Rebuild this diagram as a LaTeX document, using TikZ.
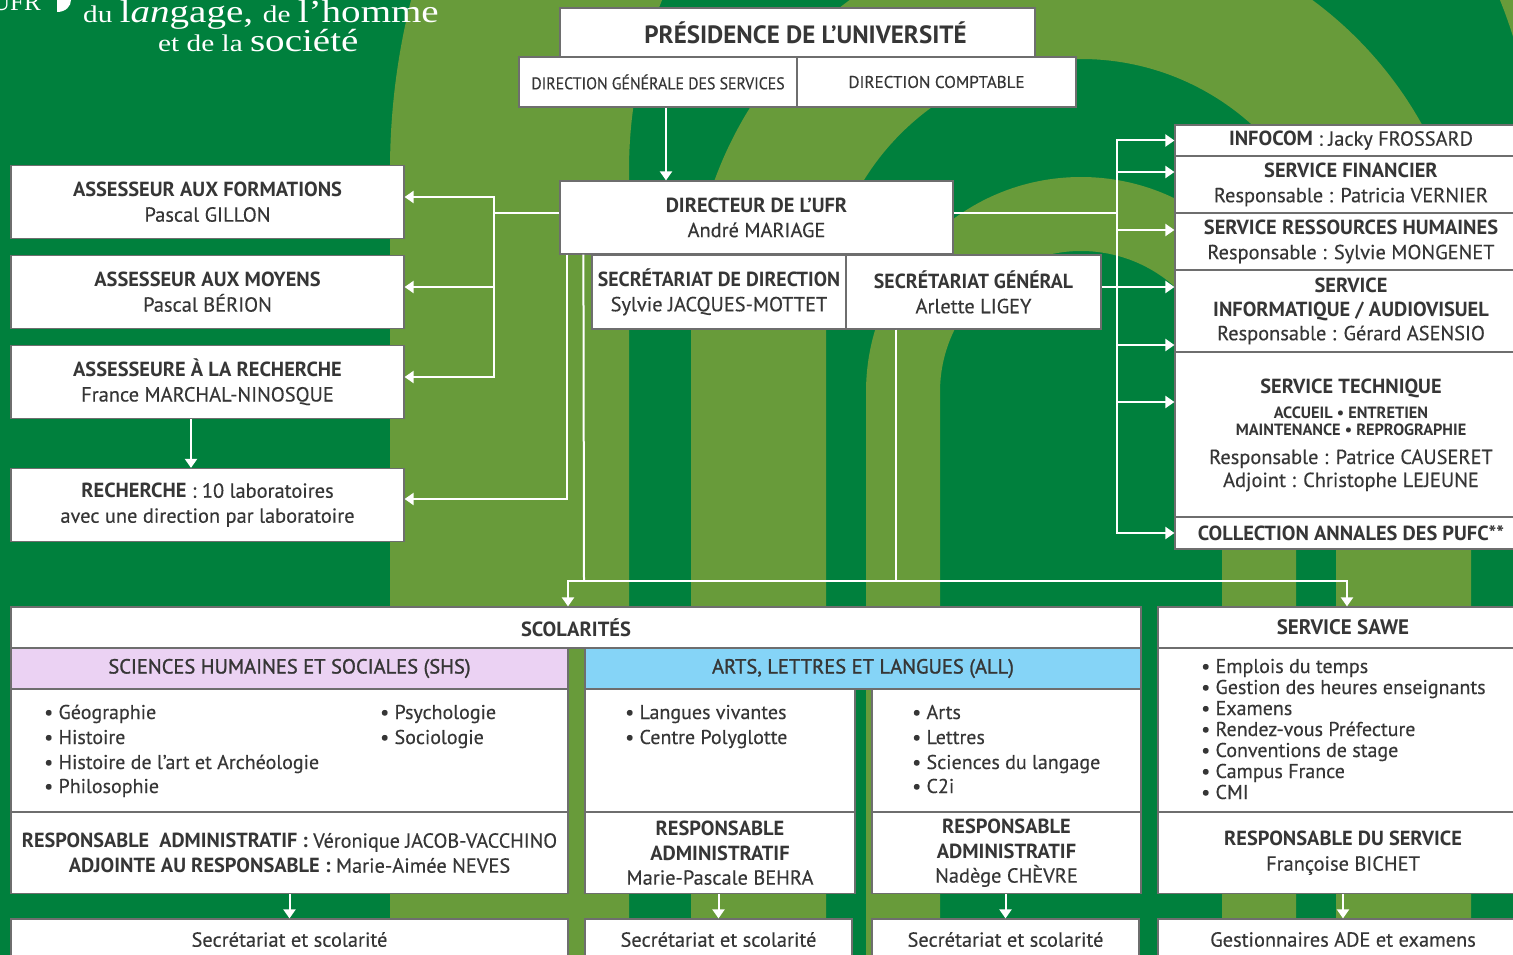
\documentclass[tikz,border=0pt]{standalone}
\usepackage{fontspec}
\usepackage{graphicx}
\usetikzlibrary{arrows.meta}
\setmainfont{PT Sans}[UprightFeatures={FakeBold=0.3}]
\newfontfamily\medfont{PT Sans}[FakeBold=1.2]
\newfontfamily\logofont{Liberation Serif}
\newcommand\fs[2]{\fontsize{#1}{#2}\selectfont}
\definecolor{dkg}{HTML}{00803D}
\definecolor{ltg}{HTML}{689B3A}
\definecolor{ink}{HTML}{363636}
\definecolor{bord}{HTML}{6E6E6E}
\definecolor{lilac}{HTML}{EBD2F3}
\definecolor{sky}{HTML}{85D4F7}
\begin{document}
\begin{tikzpicture}[x=1pt,y=1pt,
  box/.style={draw=bord, line width=1.2pt, fill=white, inner sep=0pt, align=center, text=ink, font=\fs{20.4}{25}},
  txt/.style={inner sep=0pt, text=ink, font=\fs{20}{20}},
  lst/.style={txt, anchor=base west},
  logo/.style={inner sep=0pt, text=white, font=\logofont},
  wire/.style={draw=white, line width=2pt},
  arr/.style={wire, -{Triangle[width=12pt,length=9pt]}}]
\useasboundingbox (0,0) rectangle (1513,-955);
\fill[dkg] (0,0) rectangle (1513,-955);
\begin{scope}
\clip (0,0) rectangle (1513,-955);
\fill[ltg] (390,-960) -- (390,-170) arc[start angle=180,end angle=0,radius=691] -- (1772,-960) -- (1533,-960) -- (1533,-170) arc[start angle=0,end angle=180,radius=452] -- (629,-960) -- cycle;
\fill[ltg] (691,-960) -- (691,-314) arc[start angle=180,end angle=0,radius=390] -- (1471,-960) -- (1336,-960) -- (1336,-314) arc[start angle=0,end angle=180,radius=255] -- (826,-960) -- cycle;
\fill[ltg] (866,-960) -- (866,-392) arc[start angle=180,end angle=0,radius=215] -- (1296,-960) -- (1222,-960) -- (1222,-392) arc[start angle=0,end angle=180,radius=141] -- (940,-960) -- cycle;
\end{scope}
% logo
\node[logo, anchor=base west] (ufr) at (-8,-11) {\fs{25}{25}UFR};
\fill[white] (57,0) -- (57,-12) .. controls (66,-12) and (71,-6) .. (71,0) -- cycle;
\node[logo, anchor=base west] (lg1) at (83,-23) {\scalebox{1.22}[1]{\fs{24}{24}du \fs{32}{32}l\textit{an}gage, \fs{24}{24}de \fs{32}{32}l’homme}};
\node[logo, anchor=base west] (lg2) at (158,-52) {\scalebox{1.22}[1]{\fs{24}{24}et de la \fs{32}{32}société}};
% top
\node[box, minimum width=475pt, minimum height=49pt, font=\fs{25}{28}\bfseries] (pres) at (797.5,-32.5) {\hspace*{16pt}PRÉSIDENCE DE L’UNIVERSITÉ};
\node[box, minimum width=278pt, minimum height=50pt, font=\fs{17}{20}] (dgs) at (658,-82) {\scalebox{0.93}[1]{DIRECTION GÉNÉRALE DES SERVICES}};
\node[box, minimum width=279pt, minimum height=50pt, font=\fs{17}{20}] (dcp) at (936.5,-82) {DIRECTION COMPTABLE};
\node[box, minimum width=393pt, minimum height=73pt] (dir) at (756.5,-217.5) {\textbf{DIRECTEUR DE L’UFR}\\André MARIAGE};
\node[box, minimum width=254pt, minimum height=74pt] (secdir) at (719,-292) {\scalebox{0.97}[1]{\textbf{SECRÉTARIAT DE DIRECTION}}\\Sylvie JACQUES-MOTTET};
\node[box, minimum width=255pt, minimum height=74pt] (secgen) at (973.5,-292) {\scalebox{0.97}[1]{\textbf{SECRÉTARIAT GÉNÉRAL}}\\Arlette LIGEY};
% left
\node[box, minimum width=393pt, minimum height=73pt] (af) at (207.5,-202) {\textbf{ASSESSEUR AUX FORMATIONS}\\Pascal GILLON};
\node[box, minimum width=393pt, minimum height=73pt] (am) at (207.5,-292) {\textbf{ASSESSEUR AUX MOYENS}\\Pascal BÉRION};
\node[box, minimum width=393pt, minimum height=73pt] (ar) at (207.5,-382) {\textbf{ASSESSEURE À LA RECHERCHE}\\France MARCHAL-NINOSQUE};
\node[box, minimum width=393pt, minimum height=73pt] (rech) at (207.5,-505) {\textbf{RECHERCHE} : 10 laboratoires\\avec une direction par laboratoire};
% right
\node[box, minimum width=352pt, minimum height=31pt] (infocom) at (1351,-140.5) {\textbf{INFOCOM} : Jacky FROSSARD};
\node[box, minimum width=352pt, minimum height=57pt] (fin) at (1351,-184.5) {\textbf{SERVICE FINANCIER}\\Responsable : Patricia VERNIER};
\node[box, minimum width=352pt, minimum height=57pt] (rh) at (1351,-241.5) {\textbf{SERVICE RESSOURCES HUMAINES}\\Responsable : Sylvie MONGENET};
\node[box, minimum width=352pt, minimum height=82pt, font=\fs{20.4}{24}] (info) at (1351,-311) {\textbf{SERVICE}\\\textbf{INFORMATIQUE / AUDIOVISUEL}\\Responsable : Gérard ASENSIO};
\node[box, minimum width=352pt, minimum height=165pt] (tech) at (1351,-434.5) {};
\node[txt, anchor=base, font=\fs{20.4}{20}\bfseries] (t1) at (1351,-393) {SERVICE TECHNIQUE};
\node[txt, anchor=base, font=\fs{16.3}{16}\bfseries] (t2) at (1351,-418) {ACCUEIL • ENTRETIEN};
\node[txt, anchor=base, font=\fs{16.3}{16}\bfseries] (t3) at (1351,-435) {MAINTENANCE • REPROGRAPHIE};
\node[txt, anchor=base, font=\fs{20.4}{20}] (t4) at (1351,-464) {Responsable : Patrice CAUSERET};
\node[txt, anchor=base, font=\fs{20.4}{20}] (t5) at (1351,-487) {Adjoint : Christophe LEJEUNE};
\node[box, minimum width=352pt, minimum height=32pt] (coll) at (1351,-533) {\textbf{COLLECTION ANNALES DES PUFC**}};
% scolarites
\node[box, minimum width=1130pt, minimum height=41pt, font=\fs{20.5}{20}\bfseries] (scol) at (576,-627.5) {SCOLARITÉS};
\node[box, fill=lilac, minimum width=557pt, minimum height=41pt, font=\fs{20.5}{20}\medfont] (shsh) at (289.5,-668.5) {SCIENCES HUMAINES ET SOCIALES (SHS)};
\node[box, fill=sky, minimum width=556pt, minimum height=41pt, font=\fs{20.5}{20}\medfont] (allh) at (863,-668.5) {ARTS, LETTRES ET LANGUES (ALL)};
\node[box, minimum width=557pt, minimum height=123pt] (shsl) at (289.5,-750.5) {};
\node[box, minimum width=557pt, minimum height=81pt] (shsr) at (289.5,-853) {\scalebox{0.99}[1]{\textbf{RESPONSABLE\ \ ADMINISTRATIF :} Véronique JACOB-VACCHINO}\\\textbf{ADJOINTE AU RESPONSABLE :} Marie-Aimée NEVES};
\node[box, minimum width=270pt, minimum height=123pt] (alll1) at (720,-750.5) {};
\node[box, minimum width=269pt, minimum height=123pt] (alll2) at (1006.5,-750.5) {};
\node[box, minimum width=270pt, minimum height=81pt, font=\fs{20.4}{24.5}] (allr1) at (720,-853) {\textbf{RESPONSABLE}\\\textbf{ADMINISTRATIF}\\Marie-Pascale BEHRA};
\node[box, minimum width=269pt, minimum height=81pt, font=\fs{20.4}{24.5}] (allr2) at (1006.5,-853) {\textbf{RESPONSABLE}\\\textbf{ADMINISTRATIF}\\Nadège CHÈVRE};
\node[box, minimum width=370pt, minimum height=41pt, font=\fs{21}{20}\bfseries] (sawh) at (1343,-627.5) {SERVICE SAWE};
\node[box, minimum width=370pt, minimum height=164pt] (sawl) at (1343,-730) {};
\node[box, minimum width=370pt, minimum height=81pt] (sawr) at (1343,-853) {\textbf{RESPONSABLE DU SERVICE}\\Françoise BICHET};
\node[box, minimum width=557pt, minimum height=41pt] (b1) at (289.5,-939.5) {Secrétariat et scolarité};
\node[box, minimum width=267pt, minimum height=41pt] (b2) at (718.5,-939.5) {Secrétariat et scolarité};
\node[box, minimum width=267pt, minimum height=41pt] (b3) at (1005.5,-939.5) {Secrétariat et scolarité};
\node[box, minimum width=370pt, minimum height=41pt] (b4) at (1343,-939.5) {Gestionnaires ADE et examens};
% lists
\node[lst] (g1) at (44,-719) {• Géographie};
\node[lst] (g2) at (44,-744) {• Histoire};
\node[lst] (g3) at (44,-769) {• Histoire de l’art et Archéologie};
\node[lst] (g4) at (44,-793) {• Philosophie};
\node[lst] (g5) at (380,-719) {• Psychologie};
\node[lst] (g6) at (380,-744) {• Sociologie};
\node[lst] (a1) at (625,-719) {• Langues vivantes};
\node[lst] (a2) at (625,-744) {• Centre Polyglotte};
\node[lst] (a3) at (912,-719) {• Arts};
\node[lst] (a4) at (912,-744) {• Lettres};
\node[lst] (a5) at (912,-769) {• Sciences du langage};
\node[lst] (a6) at (912,-793) {• C2i};
\node[lst] (s1) at (1201,-673) {• Emplois du temps};
\node[lst] (s2) at (1201,-694) {• Gestion des heures enseignants};
\node[lst] (s3) at (1201,-715) {• Examens};
\node[lst] (s4) at (1201,-736) {• Rendez-vous Préfecture};
\node[lst] (s5) at (1201,-757) {• Conventions de stage};
\node[lst] (s6) at (1201,-778) {• Campus France};
\node[lst] (s7) at (1201,-799) {• CMI};
% connectors
\coordinate (jL) at (494,-213);
\coordinate (jR) at (1117,-213);
\coordinate (jB) at (584,-581);
\coordinate (kA) at (666,0);
\draw[arr] (dgs.south -| kA) -- (dir.north -| kA);
\draw[wire] ([yshift=4.5pt]dir.west) -- (jL);
\draw[arr] (jL) |- ([yshift=5pt]af.east);
\draw[arr] (jL) |- ([yshift=5pt]am.east);
\draw[arr] (jL) |- ([yshift=5pt]ar.east);
\draw[arr] ([xshift=-16.5pt]ar.south) -- ([xshift=-16.5pt]rech.north);
\draw[arr] ([xshift=8pt]dir.south west) |- ([yshift=6pt]rech.east);
\draw[wire] ([xshift=24pt]dir.south west) -- (jB);
\draw[arr] (jB) -| ([xshift=-8pt]scol.north);
\draw[arr] (jB) -| ([xshift=4pt]sawh.north);
\coordinate (sgb) at ([xshift=-77.5pt]secgen.south);
\draw[wire] (sgb) -- (sgb |- jB);
\draw[wire] ([yshift=4.5pt]dir.east) -- (jR);
\coordinate (sge) at ([yshift=5pt]secgen.east);
\draw[wire] (sge) -- (sge -| jR);
\draw[arr] (jR) |- (infocom.west);
\draw[arr] (jR) |- ([yshift=12.5pt]fin.west);
\draw[arr] (jR) |- ([yshift=11.5pt]rh.west);
\draw[arr] (jR) |- ([yshift=24pt]info.west);
\draw[arr] (jR) |- ([yshift=-34pt]info.west);
\draw[arr] (jR) |- ([yshift=32.5pt]tech.west);
\draw[arr] (jR) |- (coll.west);
\draw[arr] (shsr.south) -- (b1.north);
\draw[arr] (allr1.south -| b2.north) -- (b2.north);
\draw[arr] (allr2.south -| b3.north) -- (b3.north);
\draw[arr] (sawr.south) -- (b4.north);
\end{tikzpicture}
\end{document}
